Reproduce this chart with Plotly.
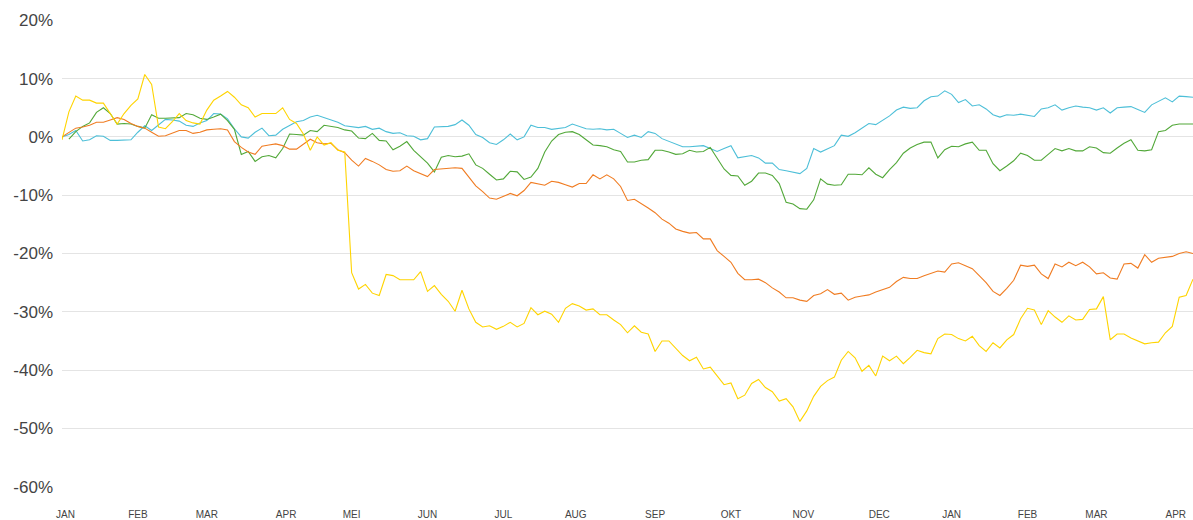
import pandas as pd
import plotly.graph_objects as go

# Trading-day calendar (Euronext), Dec 31 2021 .. Apr 12 2023
holidays = ["2022-04-15", "2022-04-18", "2022-12-26", "2023-04-07", "2023-04-10"]
all_days = [d for d in pd.bdate_range("2021-12-31", "2023-04-12") if d.strftime("%Y-%m-%d") not in holidays]
day_pos = {d: i - 1 for i, d in enumerate(all_days)}  # Jan 3 2022 -> 0

# sampled every 2nd trading day
sample_dates = all_days[0::2]

month_labels = ["JAN", "FEB", "MAR", "APR", "MEI", "JUN", "JUL", "AUG",
                "SEP", "OKT", "NOV", "DEC", "JAN", "FEB", "MAR", "APR"]

cyan_vals = [
    0.0, 0.4, 1.1, -0.7, -0.5, 0.2, 0.1, -0.6, -0.6, -0.6,
    -0.5, 0.8, 1.9, 1.1, 2.0, 3.0, 2.9, 2.7, 2.0, 1.8,
    2.4, 2.8, 4.0, 3.9, 3.1, 1.4, 0.0, -0.2, 0.8, 1.5,
    0.2, 0.3, 1.3, 1.9, 2.6, 2.8, 3.4, 3.7, 3.3, 2.9,
    2.5, 1.9, 1.8, 1.6, 1.8, 1.3, 1.5, 0.9, 0.6, 0.7,
    0.2, 0.1, -0.5, -0.3, 1.7, 1.7, 1.8, 2.1, 2.9, 2.0,
    0.4, -0.1, -1.0, -1.3, -0.5, 0.5, -0.5, 0.0, 2.0, 1.6,
    1.6, 1.3, 1.4, 1.6, 2.2, 1.8, 1.4, 1.3, 1.4, 1.2,
    1.3, 0.6, -0.1, 0.3, -0.1, 0.9, 0.6, -0.3, -0.8, -1.2,
    -1.7, -1.7, -1.6, -1.5, -2.0, -2.5, -2.0, -1.5, -3.6, -3.4,
    -3.2, -3.6, -4.5, -4.5, -5.6, -5.8, -6.0, -6.3, -5.4, -2.0,
    -2.6, -2.0, -1.5, 0.3, 0.1, 0.7, 1.5, 2.3, 2.1, 2.9,
    3.6, 4.6, 5.1, 4.9, 5.0, 6.2, 6.9, 7.0, 7.9, 7.3,
    5.9, 6.4, 5.3, 5.5, 4.8, 3.8, 3.4, 3.8, 3.7, 3.9,
    3.7, 3.5, 4.8, 5.0, 5.5, 4.6, 5.0, 5.3, 5.1, 5.0,
    4.6, 5.0, 4.1, 5.0, 5.1, 5.2, 4.7, 4.2, 5.5, 6.1,
    6.7, 6.0, 7.0, 6.9, 6.8,
]

green_vals = [
    None, -0.4, 0.9, 1.8, 2.4, 4.2, 5.0, 4.0, 2.2, 2.3,
    2.2, 1.8, 1.5, 3.8, 3.2, 3.2, 3.3, 3.3, 4.0, 3.8,
    3.2, 3.0, 3.4, 3.9, 2.8, 1.3, -3.0, -2.5, -4.2, -3.4,
    -3.2, -3.6, -2.0, 0.5, 0.4, 0.3, 1.1, 0.9, 2.0, 1.8,
    1.6, 1.2, 1.0, -0.2, -0.3, 0.6, -0.6, -0.7, -2.2, -1.6,
    -0.8, -2.3, -3.4, -4.5, -6.0, -3.5, -3.2, -3.4, -3.3, -2.9,
    -4.8, -5.4, -6.4, -7.4, -7.2, -5.9, -6.0, -7.3, -6.9, -5.4,
    -2.6, -0.7, 0.4, 0.8, 0.9, 0.4, -0.5, -1.4, -1.5, -1.7,
    -2.2, -2.5, -4.3, -4.3, -4.0, -3.9, -2.3, -2.3, -2.6, -3.0,
    -2.9, -2.3, -2.6, -2.5, -1.8, -3.6, -5.5, -6.6, -6.7, -8.3,
    -7.6, -6.2, -6.2, -6.6, -8.0, -11.2, -11.5, -12.3, -12.4, -10.8,
    -7.2, -8.1, -8.3, -8.2, -6.4, -6.4, -6.5, -5.3, -6.4, -7.0,
    -5.6, -4.4, -2.8, -1.9, -1.3, -0.9, -0.9, -3.6, -2.2, -1.6,
    -1.7, -1.2, -0.9, -2.3, -2.3, -4.6, -5.8, -5.0, -4.1, -2.8,
    -3.2, -4.0, -4.0, -3.0, -2.0, -2.4, -2.0, -2.4, -2.4, -1.7,
    -1.9, -2.7, -2.8, -1.9, -1.1, -0.5, -2.3, -2.4, -2.2, 0.9,
    1.1, 2.0, 2.2, 2.2, 2.2,
]

orange_vals = [
    0.0, 0.7, 1.5, 1.7, 2.0, 2.5, 2.5, 2.9, 3.3, 3.0,
    2.3, 1.8, 1.5, 0.8, 0.1, 0.2, 0.6, 1.1, 1.1, 0.6,
    0.8, 1.2, 1.3, 1.4, 1.2, -0.8, -1.8, -2.6, -3.0, -1.6,
    -1.4, -1.2, -1.5, -2.1, -2.1, -1.2, -0.4, -1.0, -1.2, -1.1,
    -2.2, -2.7, -4.0, -5.0, -3.7, -4.2, -4.8, -5.6, -5.9, -5.8,
    -5.0, -5.8, -6.3, -6.8, -5.6, -5.5, -5.4, -5.3, -5.4, -6.8,
    -8.4, -9.4, -10.5, -10.7, -10.2, -9.7, -10.1, -9.2, -7.8, -8.1,
    -8.3, -7.6, -7.8, -8.2, -8.6, -8.0, -8.0, -6.5, -7.2, -6.5,
    -7.2, -8.5, -10.9, -10.7, -11.4, -12.2, -13.0, -14.1, -14.8, -15.8,
    -16.2, -16.5, -16.4, -17.5, -17.5, -19.5, -20.5, -21.5, -23.4, -24.5,
    -24.5, -24.4, -25.0, -25.9, -26.6, -27.6, -27.6, -28.0, -28.2, -27.2,
    -26.9, -26.2, -27.0, -26.8, -28.0, -27.5, -27.3, -27.1, -26.6, -26.2,
    -25.8, -24.8, -24.1, -24.3, -24.3, -23.8, -23.4, -23.0, -23.2, -21.8,
    -21.6, -22.1, -22.6, -23.8, -25.0, -26.5, -27.2, -26.0, -24.6, -22.0,
    -22.2, -22.0, -23.5, -24.3, -21.8, -22.3, -21.5, -22.1, -21.5, -22.3,
    -23.5, -23.3, -24.2, -24.4, -21.8, -21.7, -22.5, -20.2, -21.5, -20.8,
    -20.6, -20.5, -20.0, -19.7, -20.0,
]

yellow_vals = [
    -0.5, 4.3, 7.0, 6.3, 6.3, 5.8, 5.8, 4.0, 2.2, 4.0,
    5.4, 6.5, 10.7, 9.0, 1.7, 1.4, 2.6, 4.0, 2.8, 2.4,
    2.2, 4.6, 6.3, 7.0, 7.8, 6.8, 5.5, 5.0, 3.4, 4.0,
    4.0, 4.0, 5.0, 3.0, 2.3, 0.5, -2.3, 0.0, -1.4, -1.0,
    -2.3, -2.6, -23.3, -26.1, -25.3, -26.8, -27.2, -23.6, -23.8, -24.5,
    -24.5, -24.5, -23.1, -26.5, -25.5, -27.0, -28.2, -29.9, -26.3, -29.5,
    -31.8, -32.6, -32.4, -33.0, -32.5, -31.8, -32.6, -32.0, -29.3, -30.5,
    -29.9, -30.4, -31.8, -29.4, -28.6, -29.0, -29.7, -29.5, -30.5, -30.5,
    -31.4, -32.2, -33.6, -32.4, -33.5, -33.8, -36.8, -35.0, -35.0, -36.3,
    -37.5, -38.4, -37.8, -39.8, -39.5, -41.0, -42.5, -42.2, -44.9, -44.3,
    -42.3, -41.6, -43.0, -43.7, -45.3, -44.9, -46.3, -48.8, -47.0, -44.5,
    -42.8, -41.8, -41.2, -38.3, -36.8, -37.9, -40.2, -39.2, -41.0, -37.6,
    -38.4, -37.6, -38.9, -37.8, -36.6, -37.0, -37.2, -34.6, -33.8, -33.9,
    -34.6, -35.0, -34.2, -35.8, -36.8, -35.3, -36.2, -34.8, -33.9, -31.2,
    -29.4, -29.7, -32.2, -29.8, -30.9, -31.8, -30.7, -31.4, -31.3, -29.6,
    -29.5, -27.4, -34.8, -33.8, -33.8, -34.5, -35.0, -35.5, -35.3, -35.2,
    -33.6, -32.5, -27.5, -27.2, -24.4,
]

x_pos = [day_pos[d] for d in sample_dates]

# tick positions: first trading day of each month
tick_pos = []
seen = set()
for d in all_days:
    key = (d.year, d.month)
    if d >= pd.Timestamp("2022-01-01") and key not in seen:
        seen.add(key)
        tick_pos.append(day_pos[d])

series = [
    ("cyan", cyan_vals, "#4dbfd8"),
    ("green", green_vals, "#52a839"),
    ("orange", orange_vals, "#f07c22"),
    ("yellow", yellow_vals, "#ffd400"),
]

fig = go.Figure()
for name, vals, col in series:
    fig.add_trace(go.Scatter(x=x_pos, y=vals, mode="lines", name=name,
                             line=dict(color=col, width=1.1), connectgaps=False))

fig.update_layout(
    width=1193, height=520,
    margin=dict(l=62, r=0, t=20, b=33),
    paper_bgcolor="white", plot_bgcolor="white",
    showlegend=False,
    font=dict(family="Liberation Sans, Arial, sans-serif", color="#444444"),
)
fig.update_xaxes(
    range=[-1, 327], tickmode="array", tickvals=tick_pos, ticktext=month_labels,
    showgrid=False, zeroline=False, showline=False, ticks="",
    tickfont=dict(size=10, color="#444444"), ticklabelstandoff=20,
)
fig.update_yaxes(
    range=[-60.05, 20.05], tickmode="array", tickvals=[-60, -50, -40, -30, -20, -10, 0, 10, 20],
    ticktext=["-60%", "-50%", "-40%", "-30%", "-20%", "-10%", "0%", "10%", "20%"],
    showgrid=True, gridcolor="#e4e4e4", gridwidth=1, zeroline=False, showline=False, ticks="",
    tickfont=dict(size=17, color="#444444"), ticklabelstandoff=8,
)

fig.write_html("out.html",
               config={"displayModeBar": False},
               post_script="document.body.style.margin='0';document.body.style.overflow='hidden';")
